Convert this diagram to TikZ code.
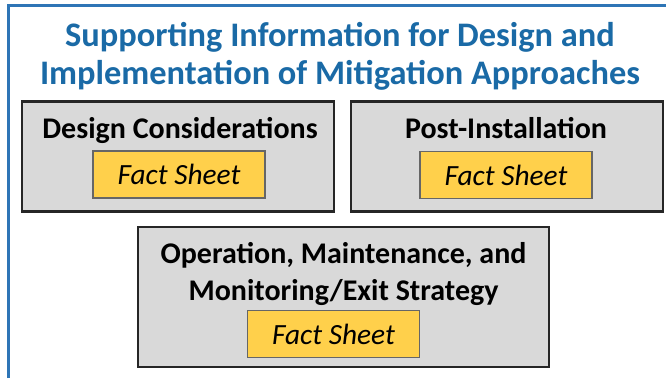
\documentclass[tikz,border=0pt]{standalone}
\usepackage{fontspec}
\setmainfont{Carlito}
\usepackage{tikz}
\usepackage{xcolor}

\definecolor{framblue}{HTML}{2E75B6}
\definecolor{titblue}{HTML}{1A6AA6}
\definecolor{boxgray}{HTML}{D9D9D9}
\definecolor{sheetyel}{HTML}{FFD04B}

\tikzset{
  topicbox/.style={draw=black!85, line width=1.6pt, fill=boxgray, inner sep=0pt},
  sheetbox/.style={draw=black!60, line width=1.2pt, fill=sheetyel, inner sep=0pt,
    minimum width=129pt, minimum height=35pt, font=\fontsize{22}{26}\selectfont\itshape},
  topictext/.style={font=\fontsize{22.5}{27.75}\selectfont\bfseries, align=center}
}

\begin{document}
\begin{tikzpicture}[x=0.75pt, y=-0.75pt]
\useasboundingbox (0,0) rectangle (666,378);

% outer frame, only left and top edges show
\draw[framblue, line width=2pt] (8.5,378) -- (8.5,5.5) -- (666,5.5);

\node[titblue, font=\fontsize{25.8}{28.5}\selectfont\bfseries, align=center] (title) at (340,56)
  {Supporting Information for Design and\\Implementation of Mitigation Approaches};

\node[topicbox, minimum width=234pt, minimum height=82.5pt] (design) at (178,156.5) {};
\node[topicbox, minimum width=234pt, minimum height=82.5pt] (post) at (507,156.5) {};
\node[topicbox, minimum width=308pt, minimum height=105pt] (omm) at (343.5,297) {};

\node[topictext] (designlbl) at (180,130) {Design Considerations};
\node[topictext] (postlbl) at (506,128) {Post-Installation};
\node[topictext] (ommlbl) at (343.5,273.5) {Operation, Maintenance, and\\Monitoring/Exit Strategy};

\node[sheetbox] (designfs) at (179,174.5) {Fact Sheet};
\node[sheetbox] (postfs) at (506,175) {Fact Sheet};
\node[sheetbox] (ommfs) at (333.5,334) {Fact Sheet};
\end{tikzpicture}
\end{document}
